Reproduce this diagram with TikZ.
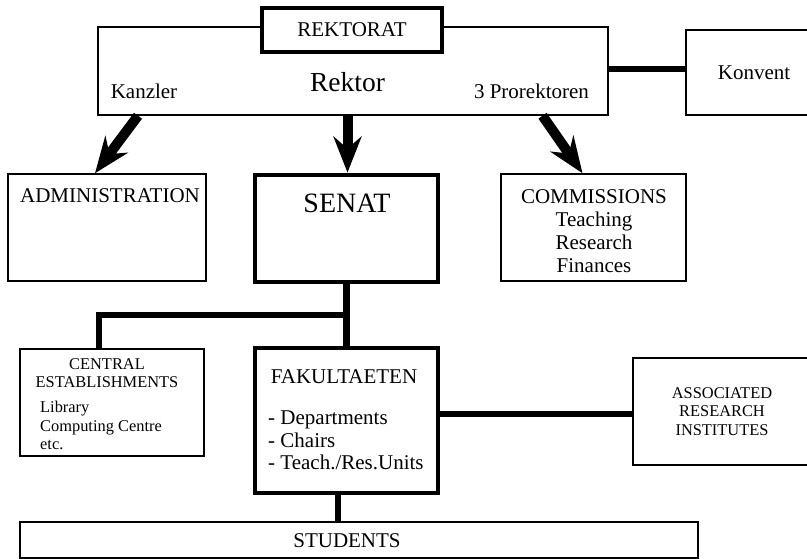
\documentclass[tikz,border=0pt]{standalone}
\usepackage{fontspec}
\setmainfont{Liberation Serif}
\usetikzlibrary{arrows.meta,positioning,calc}

\tikzset{
  caja/.style={draw, line width=1.5pt, inner sep=0pt},
  cajagruesa/.style={draw, line width=4.8pt, inner sep=0pt, fill=white},
  flecha/.style={line width=10pt, -{Stealth[length=36pt,width=28pt,inset=12pt]}},
  enlace/.style={line width=6.8pt},
  texto/.style={inner sep=0pt, font=\fontsize{21}{23}\selectfont},
  textochico/.style={inner sep=0pt, font=\fontsize{16.4}{18.5}\selectfont},
}

\begin{document}
\begin{tikzpicture}[x=1pt,y=-1pt]
  \fill[white] (0,0) rectangle (807,559);
  \useasboundingbox (0,0) rectangle (807,559);

  % Rektorat
  \node[caja, minimum width=510pt, minimum height=88pt] (rektorat) at (353,71) {};
  \node[cajagruesa, texto, minimum width=180pt, minimum height=44pt] (titulo) at (352,30) {REKTORAT};
  \node[texto, anchor=base] (kanzler) at (144,99) {Kanzler};
  \node[inner sep=0pt, anchor=base, font=\fontsize{27.5}{30}\selectfont] (rektor) at (347.5,92) {Rektor};
  \node[texto, anchor=base] (prorektoren) at (531.5,99) {3 Prorektoren};

  % Konvent
  \node[caja, texto, minimum width=136pt, minimum height=85pt] (konvent) at (754,72.5) {Konvent};
  \draw[line width=5.3pt] (rektorat.east |- 0,69) -- (konvent.west |- 0,69);

  % Cajas del segundo nivel
  \node[caja, minimum width=198pt, minimum height=107pt] (admin) at (107,227.5) {};
  \node[texto, anchor=base] (admintxt) at (110,203) {ADMINISTRATION};
  \node[cajagruesa, minimum width=183pt, minimum height=107pt] (senat) at (346.5,228.5) {};
  \node[inner sep=0pt, anchor=base, font=\fontsize{28}{30}\selectfont] (senattxt) at (347,213) {SENAT};
  \node[caja, minimum width=185pt, minimum height=107pt] (commissions) at (593.5,227.5) {};
  \node[texto, align=center, anchor=north] (commtxt) at (594,189) {COMMISSIONS\\Teaching\\Research\\Finances};

  % Flechas desde el Rektorat
  \draw[flecha] ([xshift=-6pt]kanzler.center |- rektorat.south) -- ([xshift=-12pt]admin.north);
  \draw[flecha] (rektor.center |- rektorat.south) -- (rektor.center |- senat.north);
  \draw[flecha] ([xshift=11pt]prorektoren.center |- rektorat.south) -- ([xshift=-11pt]commissions.north);

  % Cajas del tercer nivel
  \node[caja, minimum width=184pt, minimum height=107pt] (central) at (112,402.5) {};
  \node[textochico, align=center, anchor=north] (centraltxt) at (107,358) {CENTRAL\\ESTABLISHMENTS};
  \node[textochico, align=left, anchor=north west] (centrallista) at (40,401) {Library\\Computing Centre\\etc.};
  \node[cajagruesa, minimum width=183pt, minimum height=145pt] (fakultaeten) at (346.5,420.5) {};
  \node[texto, anchor=base] (faktxt) at (344,383) {FAKULTAETEN};
  \node[inner sep=0pt, align=left, anchor=north west, font=\fontsize{21}{22.5}\selectfont] (fakliste) at (268,411)
    {- Departments\\- Chairs\\- Teach./Res.Units};
  \node[caja, textochico, align=center, minimum width=178pt, minimum height=107pt] (associated) at (722,411.5)
    {ASSOCIATED\\RESEARCH\\INSTITUTES};

  % Enlaces del Senat
  \coordinate (rama) at ($(senat.south)!0.5!(fakultaeten.north)$);
  \draw[enlace] (senat.south) -- (fakultaeten.north);
  \draw[enlace] (rama) -| ([xshift=-13pt]central.north);
  \draw[enlace] ([yshift=-2.5pt]fakultaeten.east |- associated.west) -- ([yshift=-2.5pt]associated.west);

  % Students
  \node[caja, minimum width=678pt, minimum height=36pt] (students) at (359,540) {};
  \node[texto, anchor=base] (studentstxt) at (347,547) {STUDENTS};
  \draw[enlace] ([xshift=-8.5pt]fakultaeten.south) -- ([xshift=-8.5pt]fakultaeten.south |- students.north);
\end{tikzpicture}
\end{document}
